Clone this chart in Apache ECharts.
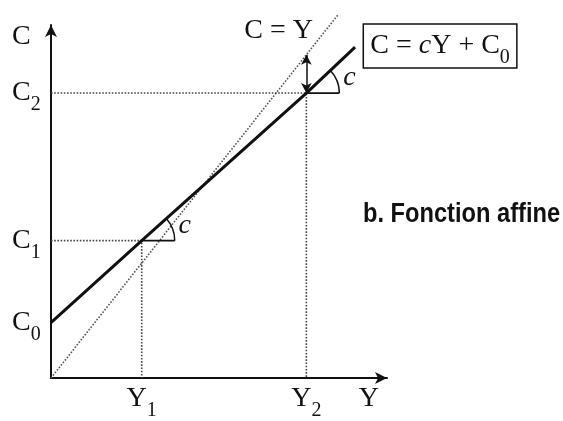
<!DOCTYPE html>
<html>
<head>
    <meta charset="UTF-8">
    <title>Fonction affine</title>
    <script src="https://cdn.jsdelivr.net/npm/echarts@6/dist/echarts.min.js"></script>
    <style>
        html, body { margin: 0; padding: 0; background: #fff; }
    </style>
</head>
<body>
<div id="main" style="width:563px;height:421px;"></div>
<script type="text/javascript">
    // valeurs (unités arbitraires)
    var xTickValues = [27, 76, 94.6];
    var xTickLabels = ['{n|Y}{s|1}', '{n|Y}{s|2}', '{n|Y}'];
    var yTickValues = [13, 32.3, 67, 80.2];
    var yTickLabels = ['{n|C}{s|0}', '{n|C}{s|1}', '{n|C}{s|2}', '{n|C}'];

    // C = cY + C0
    var consLine = [[0, 13], [27, 32.3], [76, 67], [90.5, 77.8]];
    // C = Y (bissectrice)
    var identityLine = [[0, 0], [85.3, 85.3]];
    // pointillés de lecture
    var guideY1 = [[0, 32.3], [27, 32.3], [27, 0]];
    var guideY2 = [[0, 67], [76, 67], [76, 0]];
    // écart entre C = Y et la droite en Y2
    var gapArrow = [[76, 76], [76, 67]];
    // angles "c" : point, point suivant sur la droite
    var anglePoints = [[27, 32.3, 76, 67], [76, 67, 90.5, 77.8]];

    var ink = '#111';
    var serif = '"Liberation Serif", "Times New Roman", serif';

    var richText = {
        n: { fontFamily: serif, fontSize: 28, lineHeight: 28, color: ink, verticalAlign: 'middle' },
        i: { fontFamily: serif, fontSize: 28, lineHeight: 28, color: ink, fontStyle: 'italic', verticalAlign: 'middle' },
        s: { fontFamily: serif, fontSize: 20, lineHeight: 20, color: ink, padding: [24, 0, 0, 0], verticalAlign: 'middle' }
    };

    function pickLabel(values, labels) {
        return function (v) {
            for (var k = 0; k < values.length; k++) {
                if (Math.abs(values[k] - v) < 1e-6) return labels[k];
            }
            return '';
        };
    }

    var myChart = echarts.init(document.getElementById('main'));

    myChart.setOption({
        animation: false,
        backgroundColor: '#fff',
        // sous-titre en gras étroit
        graphic: [{
            type: 'text',
            x: 363,
            y: 214,
            scaleX: 0.845,
            style: {
                text: 'b. Fonction affine',
                font: 'bold 28px "Liberation Sans", Arial, sans-serif',
                fill: ink,
                verticalAlign: 'middle'
            }
        }],
        grid: { left: 51, top: 25, width: 336, height: 355 },
        xAxis: {
            type: 'value',
            min: 0,
            max: 100,
            splitLine: { show: false },
            axisTick: { show: false },
            axisLine: {
                onZero: false,
                symbol: ['none', 'arrow'],
                symbolSize: [9, 12],
                lineStyle: { color: ink, width: 2 }
            },
            axisLabel: {
                customValues: xTickValues,
                formatter: pickLabel(xTickValues, xTickLabels),
                verticalAlign: 'middle',
                margin: 21,
                rich: richText
            }
        },
        yAxis: {
            type: 'value',
            min: 0,
            max: 83,
            splitLine: { show: false },
            axisTick: { show: false },
            axisLine: {
                onZero: false,
                symbol: ['none', 'arrow'],
                symbolSize: [9, 12],
                lineStyle: { color: ink, width: 2 }
            },
            axisLabel: {
                customValues: yTickValues,
                formatter: pickLabel(yTickValues, yTickLabels),
                align: 'left',
                margin: 39,
                rich: richText
            }
        },
        series: [
            {
                name: 'C = Y',
                type: 'line',
                data: identityLine,
                clip: false,
                symbol: 'none',
                lineStyle: { type: 'dotted', width: 1.6, color: '#555' }
            },
            {
                name: 'guideY1',
                type: 'line',
                data: guideY1,
                symbol: 'none',
                lineStyle: { type: 'dotted', width: 1.6, color: '#444' }
            },
            {
                name: 'guideY2',
                type: 'line',
                data: guideY2,
                symbol: 'none',
                lineStyle: { type: 'dotted', width: 1.6, color: '#444' }
            },
            {
                name: 'C = cY + C0',
                type: 'line',
                data: consLine,
                symbol: 'none',
                lineStyle: { width: 3, color: ink },
                z: 5,
                markLine: {
                    silent: true,
                    symbol: ['arrow', 'arrow'],
                    symbolSize: [8, 10],
                    label: { show: false },
                    lineStyle: { type: 'solid', width: 1.5, color: ink },
                    data: [[{ coord: gapArrow[0] }, { coord: gapArrow[1] }]]
                }
            },
            {
                name: 'angles',
                type: 'custom',
                data: anglePoints,
                z: 6,
                renderItem: function (params, api) {
                    var p = api.coord([api.value(0), api.value(1)]);
                    var q = api.coord([api.value(2), api.value(3)]);
                    var theta = Math.atan2(p[1] - q[1], q[0] - p[0]);
                    var r = 33;
                    return {
                        type: 'group',
                        children: [
                            {
                                type: 'line',
                                shape: { x1: p[0], y1: p[1], x2: p[0] + r, y2: p[1] },
                                style: { stroke: ink, lineWidth: 1.8 }
                            },
                            {
                                type: 'arc',
                                shape: { cx: p[0], cy: p[1], r: r, startAngle: -theta, endAngle: 0, clockwise: true },
                                style: { stroke: ink, lineWidth: 1.5, fill: null }
                            },
                            {
                                type: 'text',
                                x: p[0] + r + 10,
                                y: p[1] - 15,
                                style: {
                                    text: 'c',
                                    font: 'italic 28px ' + serif,
                                    fill: ink,
                                    align: 'center',
                                    verticalAlign: 'middle'
                                }
                            }
                        ]
                    };
                }
            },
            {
                name: 'annotations',
                type: 'scatter',
                clip: false,
                symbolSize: 0,
                silent: true,
                itemStyle: { opacity: 1, color: ink },
                data: [
                    {
                        value: identityLine[1],
                        label: {
                            show: true,
                            position: 'inside',
                            offset: [-59, 15],
                            formatter: '{n|C = Y}',
                            rich: richText
                        }
                    },
                    {
                        value: consLine[3],
                        label: {
                            show: true,
                            position: 'inside',
                            offset: [85, -1],
                            formatter: '{n|C = }{i|c}{n|Y + C}{s|0}',
                            rich: richText,
                            borderColor: ink,
                            borderWidth: 1.5,
                            padding: [8, 7, 8, 7]
                        }
                    }
                ]
            }
        ]
    });
</script>
</body>
</html>
